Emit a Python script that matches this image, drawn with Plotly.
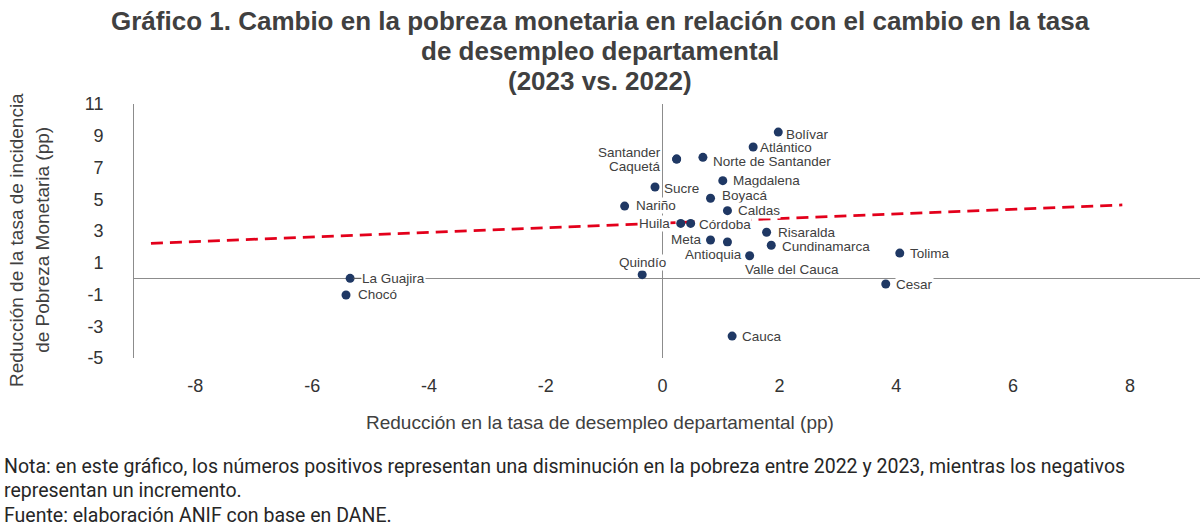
import plotly.graph_objects as go

# Departamentos: reducción en desempleo (x) vs reducción en pobreza monetaria (y), pp
departamentos = [
    "Bolívar", "Atlántico", "Santander", "Caquetá", "Norte de Santander",
    "Magdalena", "Sucre", "Boyacá", "Nariño", "Caldas", "Huila", "Córdoba",
    "Risaralda", "Meta", "Valle del Cauca", "Cundinamarca", "Antioquia",
    "Tolima", "Quindío", "Cesar", "Cauca", "La Guajira", "Chocó",
]
desempleo = [
    1.98, 1.55, 0.24, 0.24, 0.69,
    1.03, -0.13, 0.82, -0.65, 1.11, 0.31, 0.48,
    1.78, 0.82, 1.11, 1.86, 1.49,
    4.06, -0.35, 3.82, 1.19, -5.35, -5.42,
]
pobreza = [
    9.23, 8.29, 7.53, 7.53, 7.64,
    6.17, 5.77, 5.06, 4.57, 4.28, 3.48, 3.48,
    2.92, 2.43, 2.31, 2.10, 1.44,
    1.61, 0.25, -0.34, -3.62, 0.02, -1.03,
]

# linea de tendencia (extremos)
tendencia_x = [-8.76, 7.87]
tendencia_y = [2.22, 4.64]

x_ticks = [-8, -6, -4, -2, 0, 2, 4, 6, 8]
x_ticktext = ["-8", "-6", "-4", "-2", "0", "2", "4", "6", "8"]
y_ticks = [11, 9, 7, 5, 3, 1, -1, -3, -5]
y_ticktext = ["11", "9", "7", "5", "3", "1", "-1", "-3", "-5"]

titulo = [
    "Gráfico 1. Cambio en la pobreza monetaria en relación con el cambio en la tasa",
    "de desempleo departamental",
    "(2023 vs. 2022)",
]
nota = [
    "Nota: en este gráfico, los números positivos representan una disminución en la pobreza entre 2022 y 2023, mientras los negativos",
    "representan un incremento.",
    "Fuente: elaboración ANIF con base en DANE.",
]

# posicion de cada etiqueta: (xanchor, xshift, yshift)
label_pos = {
    "Bolívar": ("left", 7, -2),
    "Atlántico": ("left", 6, 0),
    "Santander": ("right", -15, 7),
    "Caquetá": ("right", -15, -7),
    "Norte de Santander": ("left", 9, -4),
    "Magdalena": ("left", 9, 0),
    "Sucre": ("left", 8, -1),
    "Boyacá": ("left", 10, 3),
    "Nariño": ("left", 10, 1),
    "Caldas": ("left", 10, 0),
    "Huila": ("right", -10, 0),
    "Córdoba": ("left", 7, -1),
    "Risaralda": ("left", 10, 0),
    "Meta": ("right", -8, 1),
    "Valle del Cauca": ("left", 17, -28),
    "Cundinamarca": ("left", 10, -1),
    "Antioquia": ("right", -7, 1),
    "Tolima": ("left", 9, 0),
    "Quindío": ("center", 0, 12),
    "Cesar": ("left", 9, 0),
    "Cauca": ("left", 9, 0),
    "Chocó": ("left", 11, 0),
}

txt = "#404040"
font_main = "Liberation Sans, Arial, sans-serif"

fig = go.Figure()

fig.add_trace(go.Scatter(
    x=tendencia_x, y=tendencia_y, mode="lines",
    line=dict(color="#e3001b", width=2.75, dash="12px,7px"),
    hoverinfo="skip", showlegend=False,
))

fig.add_trace(go.Scatter(
    x=desempleo, y=pobreza, mode="markers", text=departamentos,
    marker=dict(color="#1f3864", size=9),
    hovertemplate="%{text}<br>%{x}, %{y}<extra></extra>",
    showlegend=False,
))

annotations = []
for name, xv, yv in zip(departamentos, desempleo, pobreza):
    if name == "La Guajira":
        # etiqueta con linea guia
        annotations.append(dict(
            x=xv, y=yv, text=name, showarrow=True, ax=11, ay=0,
            xanchor="left", arrowhead=0, arrowwidth=1, arrowcolor="#595959",
            standoff=3, font=dict(family=font_main, size=13.5, color=txt),
            bgcolor="white", borderpad=0,
        ))
        continue
    anchor, dx, dy = label_pos[name]
    annotations.append(dict(
        x=xv, y=yv, text=name, showarrow=False, xanchor=anchor,
        xshift=dx, yshift=dy, font=dict(family=font_main, size=13.5, color=txt),
        bgcolor="white", borderpad=0,
    ))

# titulo en tres lineas (interlineado mas cerrado que el de plotly)
for line, ypos in zip(titulo, [1.3268, 1.2087, 1.0906]):
    annotations.append(dict(
        xref="paper", yref="paper", x=0.4375, y=ypos, showarrow=False,
        xanchor="center", yanchor="middle", text="<b>" + line + "</b>",
        font=dict(family=font_main, size=26, color=txt),
    ))

# titulos de ejes
annotations += [
    dict(xref="paper", yref="paper", x=0.4376, y=-0.252, showarrow=False,
         xanchor="center", yanchor="middle",
         text="Reducción en la tasa de desempleo departamental (pp)",
         font=dict(family=font_main, size=19, color=txt)),
    dict(xref="paper", yref="paper", x=-0.1097, y=0.465, showarrow=False,
         xanchor="center", yanchor="middle", textangle=-90,
         text="Reducción de la tasa de incidencia",
         font=dict(family=font_main, size=19, color=txt)),
    dict(xref="paper", yref="paper", x=-0.0854, y=0.465, showarrow=False,
         xanchor="center", yanchor="middle", textangle=-90,
         text="de Pobreza Monetaria (pp)",
         font=dict(family=font_main, size=19, color=txt)),
]

# nota al pie
for line, ypos in zip(nota, [-0.4272, -0.5236, -0.6201]):
    annotations.append(dict(
        xref="paper", yref="paper", x=-0.1238, y=ypos, showarrow=False,
        xanchor="left", yanchor="middle", align="left", text=line,
        font=dict(family="Roboto, sans-serif", size=19.5, color="#262626"),
    ))

fig.update_layout(
    width=1200, height=528,
    margin=dict(l=134, r=0, t=104, b=170),
    paper_bgcolor="white", plot_bgcolor="white",
    annotations=annotations,
    xaxis=dict(
        range=[-9.05, 9.2], tickvals=x_ticks, ticktext=x_ticktext,
        showgrid=False, zeroline=True, zerolinecolor="#8c8c8c",
        zerolinewidth=1, showline=False, ticks="", ticklabelstandoff=15,
        tickfont=dict(family=font_main, size=18, color="#333333"),
    ),
    yaxis=dict(
        range=[-5, 11], tickvals=y_ticks, ticktext=y_ticktext,
        showgrid=False, zeroline=True, zerolinecolor="#8c8c8c",
        zerolinewidth=1, showline=True, linecolor="#8c8c8c", linewidth=1,
        ticks="", ticklabelstandoff=26,
        tickfont=dict(family=font_main, size=18, color="#333333"),
    ),
)

# quitar el margen del body para que la figura ocupe toda la ventana
fig.write_html(
    "out.html",
    config={"displayModeBar": False},
    post_script="document.body.style.margin='0';",
)
